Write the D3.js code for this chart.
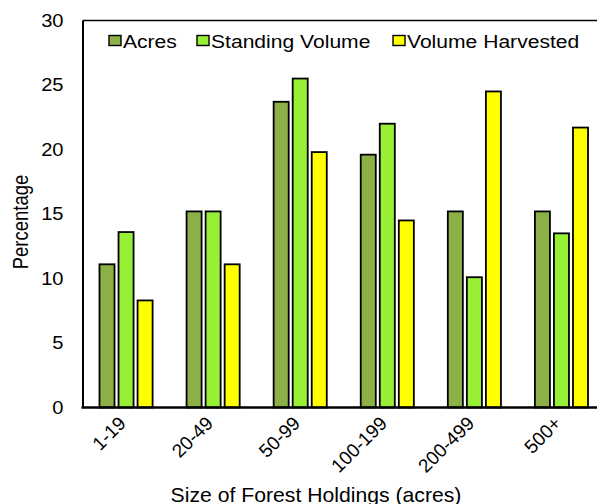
<!DOCTYPE html>
<html>
<head>
<meta charset="utf-8">
<script src="https://cdn.jsdelivr.net/npm/d3@7"></script>
<style>
  html, body { margin: 0; padding: 0; background: #fff; }
  svg { display: block; font-family: "Liberation Sans", Arial, sans-serif; }
</style>
</head>
<body>
<svg id="chart" width="597" height="504"></svg>
<script>
const categories = ["1-19", "20-49", "50-99", "100-199", "200-499", "500+"];
const seriesNames = ["Acres", "Standing Volume", "Volume Harvested"];
const seriesColors = ["#8DB046", "#97F036", "#FFFF00"];
const acres = [11.1, 15.2, 23.7, 19.6, 15.2, 15.2];
const standingVolume = [13.6, 15.2, 25.5, 22.0, 10.1, 13.5];
const volumeHarvested = [8.3, 11.1, 19.8, 14.5, 24.5, 21.7];
const yTicks = [0, 5, 10, 15, 20, 25, 30];

const seriesValues = [acres, standingVolume, volumeHarvested];
const data = categories.map((c, i) => ({
  cat: c,
  vals: seriesNames.map((s, j) => ({ key: s, value: seriesValues[j][i], color: seriesColors[j] }))
}));

const svg = d3.select("#chart");
const pLeft = 82.5, pTop = 20.5, pBottom = 407.5, pRight = 605;
const FONT = "Liberation Sans, Arial, sans-serif";
const SX = 1.15;

const x0 = d3.scaleBand().domain(categories).range([pLeft, pRight]).padding(0);
const bw = x0.bandwidth();
const x1 = d3.scaleBand().domain(seriesNames).range([bw * 0.195, bw * 0.805]).paddingInner(0.21).paddingOuter(0);
const y = d3.scaleLinear().domain([0, 30]).range([pBottom, pTop]);

// bars
const g = svg.append("g");
g.selectAll("g.grp").data(data).join("g")
  .attr("class", "grp")
  .attr("transform", d => `translate(${x0(d.cat)},0)`)
  .selectAll("rect").data(d => d.vals).join("rect")
  .attr("x", d => x1(d.key))
  .attr("y", d => y(d.value))
  .attr("width", x1.bandwidth())
  .attr("height", d => y(0) - y(d.value))
  .attr("fill", d => d.color)
  .attr("stroke", "#000")
  .attr("stroke-width", 1.8);

// top border
svg.append("line").attr("x1", pLeft).attr("x2", 597).attr("y1", pTop).attr("y2", pTop)
  .attr("stroke", "#000").attr("stroke-width", 1.6);

// y axis
const yAxis = svg.append("g").attr("transform", `translate(${pLeft},0)`)
  .call(d3.axisLeft(y).tickValues(yTicks).tickSize(0).tickPadding(19));
yAxis.select(".domain").attr("stroke", "#000").attr("stroke-width", 2);
yAxis.selectAll("text").attr("font-size", 17.5).attr("fill", "#000")
  .attr("font-family", FONT)
  .attr("x", -19 / SX)
  .attr("transform", `scale(${SX},1)`);

// x axis
const xAxis = svg.append("g").attr("transform", `translate(0,${pBottom})`)
  .call(d3.axisBottom(x0).tickSize(0).tickPadding(0));
xAxis.select(".domain").attr("stroke", "#000").attr("stroke-width", 2.5).attr("d", `M${pLeft - 1},0H597`);
xAxis.selectAll("text")
  .attr("font-size", 19).attr("fill", "#000")
  .attr("font-family", FONT)
  .attr("text-anchor", "end")
  .attr("y", 0)
  .attr("dy", 0)
  .attr("transform", "translate(1,17) rotate(-45)");

// axis titles
svg.append("text")
  .attr("transform", `translate(28,${(pTop + pBottom) / 2 + 8}) scale(${SX},1) rotate(-90)`)
  .attr("text-anchor", "middle")
  .attr("font-size", 18.5)
  .text("Percentage");
svg.append("text")
  .attr("transform", `translate(316,501.5) scale(1.06,1)`)
  .attr("text-anchor", "middle")
  .attr("font-size", 20)
  .text("Size of Forest Holdings (acres)");

// legend
const legendX = [109, 197, 393];
const leg = svg.append("g").selectAll("g").data(seriesNames).join("g")
  .attr("transform", (d, i) => `translate(${legendX[i]},35.5)`);
leg.append("rect").attr("width", 12).attr("height", 10)
  .attr("fill", (d, i) => seriesColors[i]).attr("stroke", "#000").attr("stroke-width", 1.4);
leg.append("text").attr("transform", `translate(14,12.3) scale(1.14,1)`).attr("font-size", 18.5).text(d => d);
</script>
</body>
</html>
